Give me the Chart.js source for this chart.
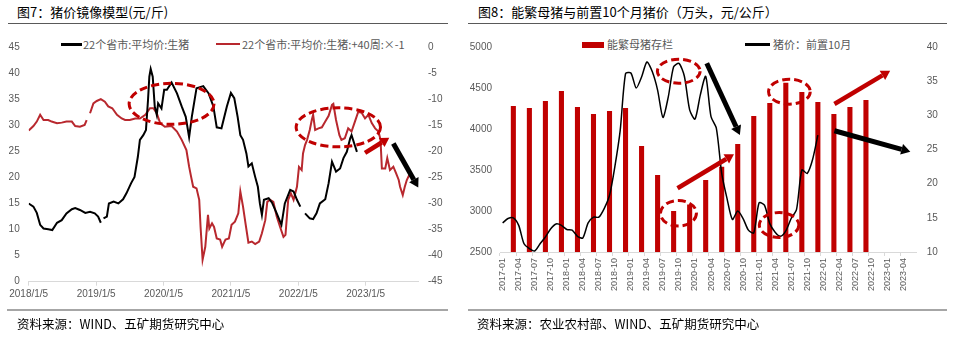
<!DOCTYPE html>
<html>
<head>
<meta charset="utf-8">
<title>猪价镜像模型 / 能繁母猪与前置10个月猪价</title>
<script src="https://cdn.jsdelivr.net/npm/chart.js"></script>
<style>
    body { margin: 0; background: #fff; font-family: "Noto Sans CJK SC", sans-serif; }
    #page { position: relative; width: 969px; height: 339px; overflow: hidden; }
    .title { position: absolute; top: 3px; font-size: 13px; line-height: 18px; color: #000; white-space: nowrap; }
    .rule { position: absolute; top: 23px; height: 1px; background: #595959; }
    .footrule { position: absolute; top: 309px; height: 2px; background: #A6A6A6; }
    .foot { position: absolute; top: 315px; font-size: 12.5px; line-height: 18px; color: #000; white-space: nowrap; }
    .lg { position: absolute; top: 36px; font-size: 11px; line-height: 16px; color: #595959; white-space: nowrap; }
    .sw { position: absolute; }
    canvas { position: absolute; top: 30px; }
</style>
</head>
<body>
<div id="page">
    <div class="title" style="left:17px">图7：猪价镜像模型(元/斤)</div>
    <div class="rule" style="left:8px;width:440px"></div>
    <div class="title" style="left:478px">图8：能繁母猪与前置10个月猪价（万头，元/公斤）</div>
    <div class="rule" style="left:468px;width:479px"></div>

    <div class="sw" style="left:61px;top:43px;width:21px;height:2.5px;background:#000"></div>
    <div class="lg" style="left:83px">22个省市:平均价:生猪</div>
    <div class="sw" style="left:216px;top:43px;width:24px;height:2px;background:#B8282E"></div>
    <div class="lg" style="left:242px">22个省市:平均价:生猪:+40周:×-1</div>

    <div class="sw" style="left:582px;top:41.5px;width:22px;height:6px;background:#C00000"></div>
    <div class="lg" style="left:607px">能繁母猪存栏</div>
    <div class="sw" style="left:745px;top:43px;width:25px;height:2.5px;background:#000"></div>
    <div class="lg" style="left:773px">猪价：前置10月</div>

    <canvas id="mirrorChart" width="455" height="280" style="left:0px"></canvas>
    <canvas id="sowChart" width="490" height="280" style="left:465px"></canvas>

    <div class="footrule" style="left:7px;width:441px"></div>
    <div class="foot" style="left:17px">资料来源：WIND、五矿期货研究中心</div>
    <div class="footrule" style="left:468px;width:479px"></div>
    <div class="foot" style="left:477px">资料来源：农业农村部、WIND、五矿期货研究中心</div>
</div>

<script>
    // ---- 图7: 22个省市生猪均价 (x = 年份小数) ----
    var hogDates = [2018.00, 2018.07, 2018.12, 2018.17, 2018.22, 2018.29, 2018.35, 2018.42, 2018.49, 2018.56,
        2018.64, 2018.69, 2018.76, 2018.84, 2018.91, 2018.98, 2019.03, 2019.07, 2019.09, 2019.11,
        2019.16, 2019.19, 2019.26, 2019.33, 2019.40, 2019.45, 2019.52, 2019.57, 2019.62, 2019.65,
        2019.70, 2019.74, 2019.77, 2019.79, 2019.81, 2019.84, 2019.87, 2019.90, 2019.92, 2019.97,
        2020.01, 2020.05, 2020.12, 2020.20, 2020.27, 2020.33, 2020.38, 2020.42, 2020.49, 2020.59,
        2020.67, 2020.74, 2020.79, 2020.86, 2020.94, 2021.00, 2021.05, 2021.10, 2021.14, 2021.18,
        2021.23, 2021.26, 2021.31, 2021.36, 2021.40, 2021.43, 2021.46, 2021.49, 2021.56, 2021.61,
        2021.68, 2021.75, 2021.80, 2021.88, 2021.93, 2021.98, 2022.03, 2022.06, 2022.10, 2022.17,
        2022.22, 2022.27, 2022.32, 2022.40, 2022.45, 2022.50, 2022.56, 2022.62, 2022.67, 2022.72,
        2022.77, 2022.79, 2022.83, 2022.87];
    var hogPrice = [15.0, 14.4, 13.2, 10.9, 10.2, 10.05, 9.9, 11.3, 11.8, 13.1,
        13.9, 14.1, 13.75, 13.2, 13.4, 13.1, 12.5, 11.3, null, 12.15,
        12.5, 15.0, 15.35, 15.0, 15.8, 16.95, 18.9, 20.1, 24.0, 27.2,
        28.1, 29.1, 34.8, 39.3, 40.8, 39.3, 33.6, 32.0, 34.2, 33.2,
        36.8, 36.8, 38.2, 36.1, 33.6, 31.6, 27.7, 31.6, 37.1, 37.5,
        36.1, 33.6, 29.6, 29.4, 33.6, 36.2, 35.2, 31.6, 28.1, 27.2,
        24.6, 22.1, 22.7, 20.1, 18.2, 15.0, 12.8, 15.7, 16.0, 15.15,
        13.1, 10.9, 15.0, 17.6, 17.3, 15.7, 14.4, null, 13.1, 12.15,
        12.0, 13.1, 15.0, 15.8, 18.9, 23.0, 21.1, 21.7, 23.7, 24.9,
        27.5, 28.1, 26.5, 24.9];

    // 22个省市均价 +40周 ×-1 (右轴)
    var mirrorDates = [2018.00, 2018.07, 2018.12, 2018.17, 2018.22, 2018.29, 2018.34, 2018.42, 2018.49, 2018.56,
        2018.64, 2018.69, 2018.76, 2018.83, 2018.86, 2018.88, 2018.91, 2018.96, 2019.01, 2019.07,
        2019.13, 2019.18, 2019.24, 2019.31, 2019.38, 2019.43, 2019.50, 2019.58, 2019.65, 2019.73,
        2019.80, 2019.85, 2019.90, 2019.95, 2020.02, 2020.12, 2020.20, 2020.27, 2020.34, 2020.38,
        2020.41, 2020.44, 2020.49, 2020.53, 2020.55, 2020.58, 2020.62, 2020.66, 2020.68, 2020.72,
        2020.75, 2020.79, 2020.84, 2020.87, 2020.92, 2020.97, 2021.01, 2021.06, 2021.11, 2021.14,
        2021.18, 2021.22, 2021.26, 2021.31, 2021.36, 2021.42, 2021.46, 2021.51, 2021.54, 2021.58,
        2021.63, 2021.68, 2021.73, 2021.78, 2021.81, 2021.85, 2021.89, 2021.93, 2021.98, 2022.01,
        2022.05, 2022.07, 2022.10, 2022.13, 2022.17, 2022.20, 2022.22, 2022.25, 2022.30, 2022.35,
        2022.40, 2022.45, 2022.50, 2022.52, 2022.56, 2022.61, 2022.64, 2022.69, 2022.74, 2022.79,
        2022.84, 2022.89, 2022.94, 2022.99, 2023.04, 2023.09, 2023.14, 2023.19, 2023.22, 2023.24,
        2023.29, 2023.32, 2023.36, 2023.41, 2023.45, 2023.49, 2023.51, 2023.55, 2023.58, 2023.61,
        2023.64, 2023.69];
    var mirrorPrice = [-16.0, -15.15, -14.3, -13.0, -14.0, -14.0, -14.3, -14.6, -14.5, -14.3,
        -14.3, -15.15, -15.3, -14.95, -14.0, null, -12.7, -10.8, -10.35, -10.0,
        -10.5, -11.4, -11.75, -13.0, -13.7, -14.0, -14.0, -13.7, -13.7, -13.0,
        -11.75, -11.75, -12.7, -14.6, -15.3, -15.15, -16.2, -17.8, -19.75, -22.95,
        -24.9, -26.8, -27.1, -29.3, -34.5, -40.8, -38.3, -32.2, -34.8, -33.8,
        -34.5, -36.7, -36.9, -38.3, -36.9, -36.7, -34.1, -33.5, -31.9, -27.7,
        -30.6, -34.1, -37.5, -37.3, -37.8, -37.3, -35.7, -33.2, -29.7, -29.3,
        -29.7, -32.5, -34.5, -36.4, -36.0, -29.3, -28.05, -29.3, -26.8, -23.0,
        -23.6, -20.4, -18.8, -17.8, -15.9, -14.0, -13.0, -15.9, -15.6, -15.4,
        -14.3, -13.2, -11.1, -10.9, -14.0, -16.9, -17.8, -17.5, -15.6, -16.2,
        -14.3, -12.4, -12.6, -13.7, -13.0, -14.6, -15.6, -16.2, -17.8, -23.3,
        -23.3, -21.3, -23.6, -22.95, -24.2, -25.5, -26.8, -28.4, -26.8, -25.5,
        -24.7, -24.5];

    var yearLabels = ['2018/1/5', '2019/1/5', '2020/1/5', '2021/1/5', '2022/1/5', '2023/1/5'];

    // ---- 图8: 能繁母猪存栏(万头) 与 前置10个月猪价(元/公斤) ----
    var months = [];
    for (var yr = 2017; yr <= 2023; yr++) {
        for (var mo = 1; mo <= 12; mo++) {
            if (yr === 2023 && mo > 6) break;
            months.push(yr + '-' + (mo < 10 ? '0' + mo : mo));
        }
    }
    var sowMonths = ['2017-03', '2017-06', '2017-09', '2017-12', '2018-03', '2018-06', '2018-09', '2018-12',
        '2019-03', '2019-06', '2019-09', '2019-12', '2020-03', '2020-06', '2020-09', '2020-12',
        '2021-03', '2021-06', '2021-09', '2021-12', '2022-03', '2022-06', '2022-09'];
    var sowStock = [4280, 4256, 4341, 4463, 4268, 4183, 4220, 4256,
        3793, 3439, 3000, 3080, 3378, 3540, 3817, 4159,
        4317, 4565, 4451, 4329, 4183, 4268, 4354];
    // from 2017-01, monthly
    var priceLag10 = [14.25, 14.9, 15.0, 13.9, 11.2, 10.5, 10.15, 11.2, 12.2, 13.4,
        14.1, 13.9, 13.3, 13.2, 12.3, 12.05, 14.25, 15.1, 15.1, 16.35,
        18.3, 22.5, 27.8, 36.1, 36.2, 34.0, 35.6, 37.8, 36.4, 33.7,
        29.7, 32.7, 37.1, 37.6, 35.75, 30.8, 29.45, 33.0, 35.7, 29.8,
        28.1, 21.5, 17.8, 14.75, 16.0, 14.9, 13.2, 12.8, 17.2, 16.85,
        14.15, 12.9, 12.3, 13.1, 14.9, 16.2, 22.0, 21.5, 23.5, 27.1];

    Chart.defaults.font.family = '"Liberation Sans", Arial, sans-serif';
    Chart.defaults.color = '#595959';

    // dashed rings and arrows, placed in data units
    var markPlugin = {
        id: 'marks',
        afterDatasetsDraw: function (chart, args, opts) {
            var ctx = chart.ctx, xs = chart.scales.x, ys = chart.scales[opts.axis];
            ctx.save();
            (opts.rings || []).forEach(function (r) {
                var cx = xs.getPixelForValue(r.x), cy = ys.getPixelForValue(r.y);
                var rx = Math.abs(xs.getPixelForValue(r.x + r.dx) - cx);
                var ry = Math.abs(ys.getPixelForValue(r.y + r.dy) - cy);
                ctx.beginPath();
                ctx.setLineDash([8, 4]);
                ctx.lineWidth = 3;
                ctx.strokeStyle = '#C00000';
                ctx.ellipse(cx, cy, rx, ry, 0, 0, Math.PI * 2);
                ctx.stroke();
            });
            ctx.setLineDash([]);
            (opts.arrows || []).forEach(function (a) {
                var x0 = xs.getPixelForValue(a.x0), y0 = ys.getPixelForValue(a.y0);
                var x1 = xs.getPixelForValue(a.x1), y1 = ys.getPixelForValue(a.y1);
                var ang = Math.atan2(y1 - y0, x1 - x0), h = a.head, hw = a.head * 0.6;
                var bx = x1 - h * Math.cos(ang), by = y1 - h * Math.sin(ang);
                ctx.strokeStyle = a.color;
                ctx.fillStyle = a.color;
                ctx.lineWidth = a.width;
                ctx.beginPath();
                ctx.moveTo(x0, y0);
                ctx.lineTo(bx, by);
                ctx.stroke();
                ctx.beginPath();
                ctx.moveTo(x1, y1);
                ctx.lineTo(bx + hw * Math.sin(ang), by - hw * Math.cos(ang));
                ctx.lineTo(bx - hw * Math.sin(ang), by + hw * Math.cos(ang));
                ctx.closePath();
                ctx.fill();
            });
            ctx.restore();
        }
    };

    function pairs(xsArr, ysArr) {
        return xsArr.map(function (x, i) { return { x: x, y: ysArr[i] }; });
    }

    function plain(v) { return String(v); }

    new Chart(document.getElementById('mirrorChart'), {
        type: 'line',
        data: {
            datasets: [{
                label: '22个省市:平均价:生猪',
                data: pairs(hogDates, hogPrice),
                borderColor: '#000000',
                borderWidth: 2,
                pointRadius: 0,
                yAxisID: 'y'
            }, {
                label: '22个省市:平均价:生猪:+40周:×-1',
                data: pairs(mirrorDates, mirrorPrice),
                borderColor: '#B8282E',
                borderWidth: 2,
                pointRadius: 0,
                yAxisID: 'y1'
            }]
        },
        options: {
            responsive: false,
            animation: false,
            spanGaps: false,
            layout: { padding: { top: 17, left: 0, right: 0, bottom: 0 } },
            plugins: {
                legend: { display: false },
                tooltip: { enabled: false },
                marks: {
                    axis: 'y',
                    rings: [
                        { x: 2020.12, y: 34.1, dx: 0.63, dy: 3.93 },
                        { x: 2022.594, y: 29.6, dx: 0.626, dy: 3.74 }
                    ],
                    arrows: [
                        { x0: 2022.99, y0: 24.7, x1: 2023.35, y1: 27.6, color: '#C00000', width: 4.5, head: 9 },
                        { x0: 2023.41, y0: 26.5, x1: 2023.78, y1: 18.06, color: '#000000', width: 5, head: 9 }
                    ]
                }
            },
            scales: {
                x: {
                    type: 'linear',
                    min: 2018,
                    max: 2023.776,
                    afterFit: function (s) { s.height = 28.3; },
                    border: { color: '#D9D9D9' },
                    grid: { drawOnChartArea: false, tickLength: 4, color: '#D9D9D9' },
                    ticks: {
                        stepSize: 1,
                        includeBounds: false,
                        padding: 3,
                        maxRotation: 0,
                        font: { size: 10 },
                        callback: function (v) { return yearLabels[Math.round(v) - 2018] || ''; }
                    }
                },
                y: {
                    position: 'left',
                    min: 0,
                    max: 45,
                    afterFit: function (s) { s.width = 28.7; },
                    border: { display: false },
                    grid: { display: false, drawTicks: false },
                    ticks: { stepSize: 5, padding: 9, font: { size: 10 }, callback: plain }
                },
                y1: {
                    position: 'right',
                    min: -45,
                    max: 0,
                    afterFit: function (s) { s.width = 37; },
                    border: { display: false },
                    grid: { display: false, drawTicks: false },
                    ticks: { stepSize: 5, padding: 10, font: { size: 10 }, callback: plain }
                }
            }
        },
        plugins: [markPlugin]
    });

    new Chart(document.getElementById('sowChart'), {
        type: 'bar',
        data: {
            labels: months,
            datasets: [{
                type: 'line',
                label: '猪价：前置10月',
                data: priceLag10,
                borderColor: '#000000',
                borderWidth: 1.5,
                pointRadius: 0,
                tension: 0.25,
                yAxisID: 'y1',
                order: 1
            }, {
                label: '能繁母猪存栏',
                data: sowMonths.map(function (m, i) { return { x: m, y: sowStock[i] }; }),
                backgroundColor: '#C00000',
                barPercentage: 0.95,
                categoryPercentage: 1,
                yAxisID: 'y',
                order: 2
            }]
        },
        options: {
            responsive: false,
            animation: false,
            layout: { padding: { top: 17, left: 0, right: 0, bottom: 0 } },
            plugins: {
                legend: { display: false },
                tooltip: { enabled: false },
                marks: {
                    axis: 'y',
                    rings: [
                        { x: 32.96, y: 4704, dx: 4.0, dy: 146 },
                        { x: 32.9, y: 2972, dx: 3.37, dy: 156 },
                        { x: 53.67, y: 4455, dx: 3.9, dy: 152 },
                        { x: 51.74, y: 2829, dx: 3.7, dy: 152 }
                    ],
                    arrows: [
                        { x0: 32.73, y0: 3277, x1: 43.3, y1: 3691, color: '#C00000', width: 4.5, head: 9 },
                        { x0: 62.1, y0: 4305, x1: 72.53, y1: 4711, color: '#C00000', width: 4.5, head: 9 },
                        { x0: 38.2, y0: 4801, x1: 44.4, y1: 3927, color: '#000000', width: 5, head: 9 },
                        { x0: 62.1, y0: 3979, x1: 76.3, y1: 3723, color: '#000000', width: 5, head: 9 }
                    ]
                }
            },
            scales: {
                x: {
                    afterFit: function (s) { s.height = 58; },
                    border: { color: '#D9D9D9' },
                    grid: {
                        drawOnChartArea: false,
                        tickLength: 4,
                        color: function (c) { return c.index % 3 === 0 ? '#D9D9D9' : 'rgba(0,0,0,0)'; }
                    },
                    ticks: {
                        autoSkip: false,
                        maxRotation: 90,
                        minRotation: 90,
                        padding: 2,
                        font: { size: 9 },
                        callback: function (v, i) { return i % 3 === 0 ? months[i] : ''; }
                    }
                },
                y: {
                    position: 'left',
                    min: 2500,
                    max: 5000,
                    afterFit: function (s) { s.width = 35; },
                    border: { display: false },
                    grid: { display: false, drawTicks: false },
                    ticks: { stepSize: 500, padding: 8, font: { size: 10 }, callback: plain }
                },
                y1: {
                    position: 'right',
                    min: 10,
                    max: 40,
                    afterFit: function (s) { s.width = 38.3; },
                    border: { display: false },
                    grid: { display: false, drawTicks: false },
                    ticks: { stepSize: 5, padding: 10, font: { size: 10 }, callback: plain }
                }
            }
        },
        plugins: [markPlugin]
    });
</script>
</body>
</html>
